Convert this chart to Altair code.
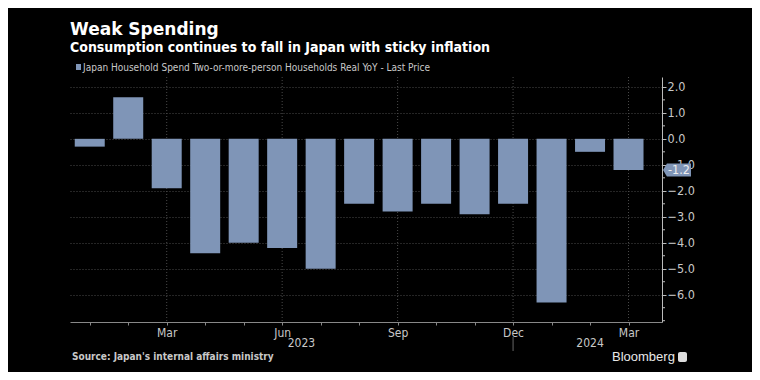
import altair as alt
import pandas as pd

# ---------------- data ----------------
months = ["Jan", "Feb", "Mar", "Apr", "May", "Jun", "Jul", "Aug", "Sep",
          "Oct", "Nov", "Dec", "Jan", "Feb", "Mar"]
years = [2023] * 12 + [2024] * 3
values = [-0.3, 1.6, -1.9, -4.4, -4.0, -4.2, -5.0, -2.5, -2.8, -2.5, -2.9,
          -2.5, -6.3, -0.5, -1.2]
tick_labels = ["", "", "Mar", "", "", "Jun", "", "", "Sep", "", "", "Dec",
               "", "", "Mar"]
y_major = [-6, -5, -4, -3, -2, -1, 0, 1, 2]
y_minor = [-7.0, -6.5, -5.5, -4.5, -3.5, -2.5, -1.5, -0.5, 0.5, 1.5]

title = "Weak Spending"
subtitle = "Consumption continues to fall in Japan with sticky inflation"
legend_label = "Japan Household Spend Two-or-more-person Households Real YoY - Last Price"
source = "Source: Japan's internal affairs ministry"

# ---------------- frames ----------------
df = pd.DataFrame({"idx": list(range(len(values))), "value": values,
                   "month": months, "year": years, "tick": tick_labels})
grid_df = df[df["tick"] != ""]
year_df = df.groupby("year", as_index=False)["idx"].mean()
year_df["label"] = year_df["year"].astype(str)
sep_df = pd.DataFrame({"idx": [df[df["year"] == years[0]]["idx"].max()]})
minor_df = pd.DataFrame({"value": y_minor})
last_df = df.tail(1).copy()
last_df["label"] = last_df["value"].map(lambda v: f"{v:.1f}")

BAR = "#7F95B7"
TXT = "#c8c8c8"
FONT = "Liberation Sans Narrow, DejaVu Sans Condensed, Liberation Sans"

label_expr = "[" + ",".join(f"'{t}'" for t in tick_labels) + "][datum.value]"

x_enc = alt.X("idx:Q",
              scale=alt.Scale(domain=[-0.383, 14.74], nice=False, zero=False),
              axis=alt.Axis(values=list(range(len(values))), labelExpr=label_expr,
                            grid=False, title=None, tickSize=3, tickColor="#888",
                            domainColor="#888", labelColor=TXT, labelFontSize=12,
                            labelFont=FONT, labelPadding=2, labelFlush=False))
y_enc = alt.Y("value:Q",
              scale=alt.Scale(domain=[-7.05, 2.38], nice=False, zero=False),
              axis=alt.Axis(orient="right", values=y_major, format=".1f",
                            grid=True, gridColor="#4a4a4a", gridDash=[1, 2],
                            title=None, tickSize=4, tickColor="#bbb",
                            domainColor="#bbb", labelColor=TXT, labelFontSize=12.5,
                            labelFont=FONT, labelPadding=1))

vgrid = alt.Chart(grid_df).mark_rule(color="#4a4a4a", strokeDash=[1, 2]).encode(x=x_enc)

bars = alt.Chart(df).mark_bar(size=30, orient="vertical", color=BAR).encode(
    x=x_enc, y=y_enc, y2=alt.datum(0))

minor = alt.Chart(minor_df).mark_rule(color="#bbb").encode(
    y=y_enc, x=alt.value(592), x2=alt.value(595))

years_txt = alt.Chart(year_df).mark_text(color=TXT, fontSize=12, font=FONT,
                                         baseline="middle").encode(
    x=x_enc, y=alt.value(266), text="label:N")

sep = alt.Chart(sep_df).mark_rule(color="#666").encode(
    x=x_enc, y=alt.value(260), y2=alt.value(274))

tag_path = "M -1 0 L -0.72 -0.46 L 1 -0.46 L 1 0.46 L -0.72 0.46 Z"
tag = alt.Chart(last_df).mark_point(shape=tag_path, size=784, filled=True,
                                    color=BAR, opacity=1).encode(
    x=alt.value(607), y=y_enc)
tag_txt = alt.Chart(last_df).mark_text(color="#eeeeee", fontSize=12.5, font=FONT,
                                       baseline="middle", align="center").encode(
    x=alt.value(609), y=y_enc, text="label:N")


def txt(s, x, y, size, bold=False, color="white", align="left", baseline="alphabetic",
        font="Liberation Sans"):
    return alt.Chart(pd.DataFrame({"t": [s]})).mark_text(
        align=align, baseline=baseline, fontSize=size, color=color, font=font,
        fontWeight="bold" if bold else "normal").encode(
        x=alt.value(x), y=alt.value(y), text="t:N")


title_t = txt(title, 0, -42, 17, bold=True, font="DejaVu Sans")
sub_t = txt(subtitle, 0, -25, 14, bold=True, font="DejaVu Sans Condensed, DejaVu Sans")
leg_sq = alt.Chart(pd.DataFrame({"a": [0]})).mark_rect(color=BAR).encode(
    x=alt.value(6), x2=alt.value(11), y=alt.value(-13), y2=alt.value(-7))
leg_t = txt(legend_label, 13, -6, 10, color=TXT, font=FONT)
src_t = txt(source, 2, 280, 10, bold=True, color=TXT, baseline="middle",
            font="DejaVu Sans Condensed, Liberation Sans Narrow")
bb_t = txt("Bloomberg", 542, 280, 13, color="#e8e8e8", baseline="middle",
           font="Liberation Sans")
logo = alt.Chart(pd.DataFrame({"a": [0]})).mark_rect(color="#dddddd", cornerRadius=2).encode(
    x=alt.value(608), x2=alt.value(617), y=alt.value(275), y2=alt.value(285))

chart = alt.layer(vgrid, bars, minor, years_txt, sep, tag, tag_txt,
                  title_t, sub_t, leg_sq, leg_t, src_t, bb_t, logo).properties(
    width=592, height=245,
    autosize=alt.AutoSizeParams(type="none"),
    padding={"left": 62, "top": 69, "right": 90, "bottom": 50},
    background="black",
).configure_view(stroke=None)

chart.save("out.html", embed_options={"renderer": "svg", "actions": False})
